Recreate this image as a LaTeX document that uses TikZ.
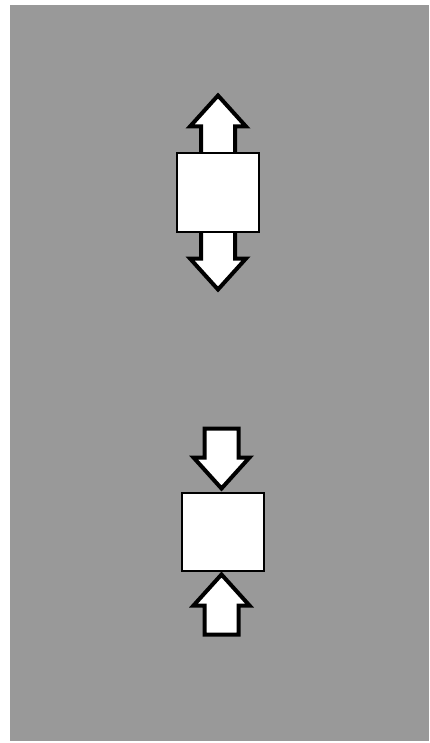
\documentclass[tikz,border=0pt]{standalone}
\begin{document}
\begin{tikzpicture}[x=1pt, y=-1pt,
    box/.style={draw, line width=2pt, fill=white, inner sep=0pt,
                minimum width=82pt, minimum height=78pt},
    fatarrow/.style={draw, line width=4pt, fill=white, line join=miter}]
    % Page and background
    \useasboundingbox (0,0) rectangle (429,743);
    \fill[black!40] (10,5) rectangle (429,741);

    % Centres of the two boxes
    \coordinate (pull) at (218,192.5);
    \coordinate (push) at (222.5,531.5);

    % Arrows pointing away from the upper box
    \begin{scope}[shift={(pull)}]
        \draw[fatarrow] (-17,-38) -- (-17,-66) -- (-28,-66) -- (0,-97)
            -- (28,-66) -- (17,-66) -- (17,-38);
        \draw[fatarrow] (-17,38) -- (-17,66) -- (-28,66) -- (0,97)
            -- (28,66) -- (17,66) -- (17,38);
    \end{scope}

    % Arrows pointing into the lower box
    \begin{scope}[shift={(push)}]
        \draw[fatarrow] (-18,-103) -- (-18,-74) -- (-29,-74) -- (-1,-43)
            -- (27,-74) -- (16,-74) -- (16,-103) -- cycle;
        \draw[fatarrow] (-18,103) -- (-18,74) -- (-29,74) -- (-1,43)
            -- (27,74) -- (16,74) -- (16,103) -- cycle;
    \end{scope}

    % The boxes
    \node[box] (box1) at (pull) {};
    \node[box] (box2) at (push) {};
\end{tikzpicture}
\end{document}
